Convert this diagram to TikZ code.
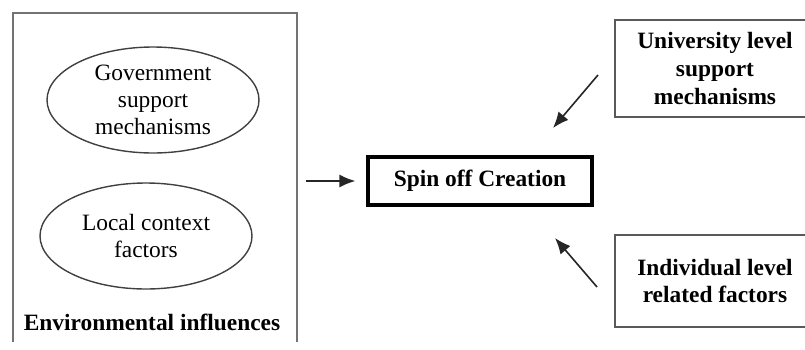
\documentclass[tikz,border=0pt]{standalone}
\usepackage{fontspec}
\setmainfont{Liberation Serif}
\usetikzlibrary{shapes.geometric,arrows.meta}

\begin{document}
\begin{tikzpicture}[
	x=0.5pt,y=-0.5pt,
	factor/.style={
		ellipse,
		draw=black!75,
		line width=0.7pt,
		align=center,
		minimum width=106pt,
		minimum height=53pt,
		inner sep=0pt,
		font=\fontsize{11.7}{13.6}\selectfont
	},
	frame/.style={
		rectangle,
		draw=black!55,
		line width=0.9pt,
		minimum width=142pt,
		minimum height=168pt
	},
	outcome/.style={
		rectangle,
		draw=black,
		line width=1.6pt,
		align=center,
		minimum width=112pt,
		minimum height=24pt,
		font=\bfseries\fontsize{11.7}{13.6}\selectfont
	},
	level/.style={
		rectangle,
		draw=black!65,
		line width=0.9pt,
		align=center,
		minimum width=100pt,
		font=\bfseries\fontsize{11.7}{13.8}\selectfont
	},
	caption/.style={font=\bfseries\fontsize{11.7}{13.6}\selectfont},
	edge/.style={-{Latex[length=8pt,width=6.5pt]},line width=0.8pt,black!85}
]

\useasboundingbox (0,0) rectangle (805,349);
\clip (0,0) rectangle (805,341);

% Bloque izquierdo
\node[frame] (env) at (155,181) {};
\node[factor] (gov) at (153,100) {Government\\support\\mechanisms};
\node[factor] (local) at (146,236) {Local context\\factors};
\node[caption] (envlab) at (152,322) {Environmental influences};

% Nodo central
\node[outcome] (spin) at (480,181) {Spin off Creation};

% Bloques derechos
\node[level,minimum height=48.5pt] (univ) at (715,68.5) {University level\\support\\mechanisms};
\node[level,minimum height=46pt] (indiv) at (715,281) {Individual level\\related factors};

% Puntos libres de las flechas
\coordinate (utail) at (598,75);
\coordinate (uhead) at (553,128);
\coordinate (itail) at (597,287);
\coordinate (ihead) at (555,238);

% Conexiones
\draw[edge,shorten <=4pt,shorten >=5.5pt] (env.east) -- (spin.west);
\draw[edge] (utail) -- (uhead);
\draw[edge] (itail) -- (ihead);

\end{tikzpicture}
\end{document}
